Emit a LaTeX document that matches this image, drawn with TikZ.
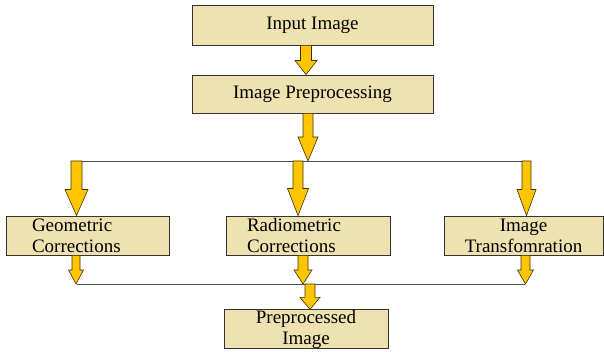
\documentclass[tikz,border=0pt]{standalone}
\usepackage{fontspec}
\setmainfont{Liberation Serif}
\newfontfamily\diagfont{Liberation Serif}
\usetikzlibrary{calc}
\definecolor{boxtan}{RGB}{238,226,176}
\definecolor{arrgold}{RGB}{255,198,0}
\definecolor{arredge}{RGB}{60,50,10}
% fat downward arrow: from, to, shaft half width, head half width, head length
\newcommand{\blockarrow}[5]{%
  \draw[blockarr] ($(#1)+(-#3,0)$) -- ($(#2)+(-#3,-#5)$) -- ($(#2)+(-#4,-#5)$) -- (#2)
    -- ($(#2)+(#4,-#5)$) -- ($(#2)+(#3,-#5)$) -- ($(#1)+(#3,0)$) -- cycle;}

\begin{document}
\begin{tikzpicture}[x=1pt,y=-1pt,
    box/.style={draw=black!80, line width=0.9pt, fill=boxtan, inner sep=0pt,
      font=\diagfont\fontsize{19}{21}\selectfont},
    blockarr/.style={draw=arredge, line width=0.6pt, fill=arrgold},
    busline/.style={draw=black!70, line width=0.8pt}]
  \useasboundingbox (0,0) rectangle (604,352);
  % boxes
  \node[box, minimum width=241pt, minimum height=40pt] (in) at (312.5,25) {Input Image};
  \node[box, minimum width=241pt, minimum height=38pt] (pre) at (312.5,94) {Image Preprocessing};
  \node[box, minimum height=39pt, text width=111pt, inner xsep=26pt, align=left] (geo) at (87.5,235.5) {Geometric\\Corrections};
  \node[box, minimum height=39pt, text width=122pt, inner xsep=21pt, align=left] (rad) at (308,235.5) {Radiometric\\Corrections};
  \node[box, minimum width=159pt, minimum height=39pt, align=center] (tra) at (523.5,235.5) {Image\\Transfomration};
  \node[box, minimum width=164pt, minimum height=38pt, align=center] (out) at (306,329) {Preprocessed\\Image};
  % split and join lines
  \coordinate (splitL) at (71,161);
  \coordinate (splitR) at (530,161);
  \coordinate (joinL) at (77,284);
  \coordinate (joinR) at (525,284);
  \draw[busline] (splitL) -- (splitR);
  \draw[busline] (joinL) -- (joinR);
  % arrows
  \blockarrow{306,0 |- in.south}{306,0 |- pre.north}{5.5}{11}{14}
  \blockarrow{308,0 |- pre.south}{308,0 |- splitL}{5}{10}{24}
  \blockarrow{76.5,0 |- splitL}{76.5,0 |- geo.north}{5.5}{11.5}{26}
  \blockarrow{298,0 |- splitL}{298,0 |- rad.north}{5}{10.5}{27}
  \blockarrow{526.5,0 |- splitR}{526.5,0 |- tra.north}{4.5}{9.5}{26}
  \blockarrow{76,0 |- geo.south}{76,0 |- joinL}{4}{7.5}{14}
  \blockarrow{303,0 |- rad.south}{303,0 |- joinL}{5}{9}{14}
  \blockarrow{525.5,0 |- tra.south}{525.5,0 |- joinR}{4.5}{8}{14}
  \blockarrow{310,0 |- joinL}{310,0 |- out.north}{5}{10}{12}
\end{tikzpicture}
\end{document}
